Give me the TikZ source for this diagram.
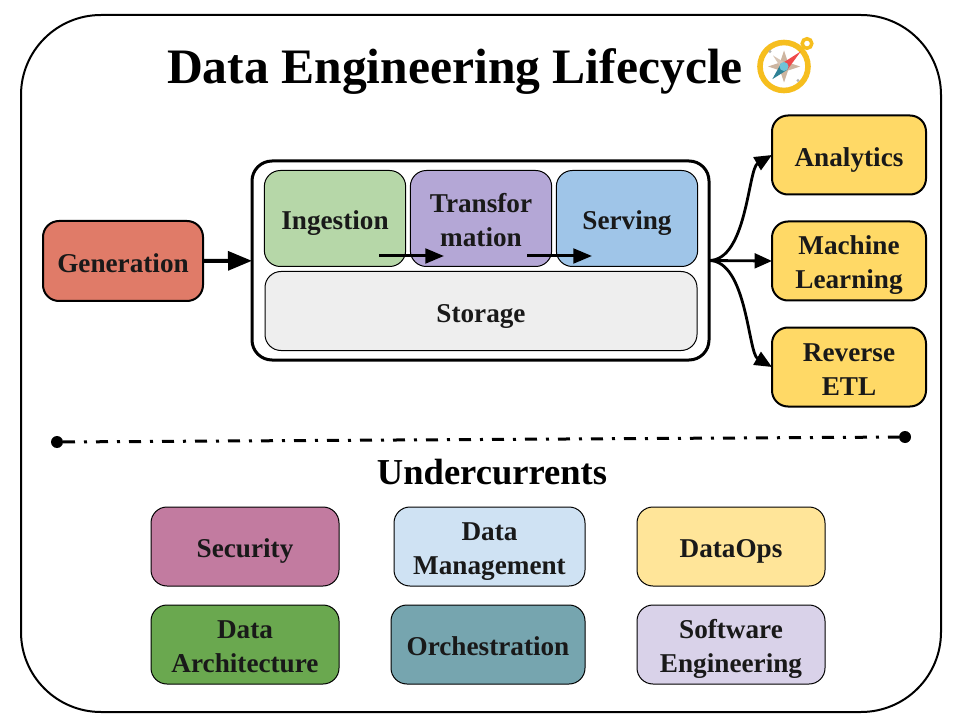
\documentclass[tikz,border=0pt]{standalone}
\usepackage{fontspec}
\setmainfont{Liberation Serif}
\usetikzlibrary{arrows.meta}
\definecolor{cgen}{HTML}{E07B68}
\definecolor{cing}{HTML}{B6D7A8}
\definecolor{ctra}{HTML}{B4A7D6}
\definecolor{cser}{HTML}{9FC5E8}
\definecolor{csto}{HTML}{EEEEEE}
\definecolor{cyel}{HTML}{FFD966}
\definecolor{csec}{HTML}{C27BA0}
\definecolor{cman}{HTML}{CFE2F3}
\definecolor{cops}{HTML}{FFE599}
\definecolor{carc}{HTML}{6AA84F}
\definecolor{corc}{HTML}{76A5AF}
\definecolor{csof}{HTML}{D9D2E9}
\definecolor{cring}{HTML}{F6BE1E}
\definecolor{cstar}{HTML}{CDB5A0}
\definecolor{cneedr}{HTML}{EF4A4A}
\definecolor{cneedt}{HTML}{2F8296}
\definecolor{chub}{HTML}{6FC4D8}
\tikzset{
  px/.style={x=0.75pt,y=-0.75pt},
  boxbase/.style={draw=black,rounded corners=12pt,inner sep=0pt,outer sep=0pt,align=center,
     font=\fontsize{20.4}{25.5}\selectfont\bfseries,text=black!90,
     execute at begin node={\rule{0pt}{21.75pt}},
     execute at end node={\rule[-5pt]{0pt}{0pt}}},
  two lines/.style={execute at begin node={\rule{0pt}{47pt}}},
  thin box/.style={boxbase,line width=0.75pt},
  mid box/.style={boxbase,line width=1.5pt},
  inarrow/.style={line width=2.25pt,-{Triangle[length=14pt,width=11pt]}},
  fan/.style={line width=2.1pt,-{Triangle[length=13pt,width=11pt]}},
  endpoint/.style={circle,fill=black,inner sep=0pt,minimum size=9pt,outer sep=0pt},
}
\begin{document}
\begin{tikzpicture}[px]
\useasboundingbox (0,0) rectangle (960,720);
\fill[white] (0,0) rectangle (960,720);
\node[draw=black,line width=1.5pt,rounded corners=60pt,minimum width=690pt,minimum height=522.75pt,inner sep=0pt,outer sep=0pt] (frame) at (481,363.5) {};
\node[font=\fontsize{37.2}{44}\selectfont\bfseries,inner sep=0pt] (title) at (455,72) {Data Engineering Lifecycle};
% compass
\begin{scope}[shift={(784,66.5)}]
  \draw[draw=cring,line width=2.6pt] (23,-23) circle (4.8);
  \filldraw[fill=white,draw=cring,line width=4.2pt] (0,0) circle (24);
  \fill[gray!60] (-14,-15) circle (1.6) (14,14) circle (1.6);
  \fill[cstar] (0,-16)--(4,-4)--(16,0)--(4,4)--(0,16)--(-4,4)--(-16,0)--(-4,-4)--cycle;
  \fill[cstar!80] (-11,-11)--(2,-3)--(3,2)--(-2,3)--cycle;
  \fill[cneedr] (16.7,-15)--(-1.7,-3.3)--(3.3,3.3)--cycle;
  \fill[cneedt] (-11.7,12.7)--(-3,-3)--(3.3,3.3)--cycle;
  \fill[chub] (0,0) circle (4.5);
\end{scope}
\node[mid box,fill=cgen,minimum width=120pt,minimum height=60pt] (gen) at (123,261) {Generation};
\node[draw=black,line width=2.25pt,rounded corners=15pt,minimum width=342.75pt,minimum height=149.25pt,inner sep=0pt,outer sep=0pt] (pipe) at (480.5,260.5) {};
\node[thin box,fill=cing,minimum width=106pt,minimum height=72pt] (ing) at (335,218.5) {Ingestion};
\node[thin box,two lines,fill=ctra,minimum width=106pt,minimum height=72pt] (tra) at (481,218.5) {Transfor\\mation};
\node[thin box,fill=cser,minimum width=106pt,minimum height=72pt] (ser) at (627,218.5) {Serving};
\node[thin box,fill=csto,minimum width=324pt,minimum height=59.25pt] (sto) at (481,311) {Storage};
\node[mid box,fill=cyel,minimum width=115.5pt,minimum height=59.25pt] (ana) at (849,155) {Analytics};
\node[mid box,two lines,fill=cyel,minimum width=115.5pt,minimum height=59.25pt] (mac) at (849,261) {Machine\\Learning};
\node[mid box,two lines,fill=cyel,minimum width=115.5pt,minimum height=59.25pt] (rev) at (849,367) {Reverse\\ETL};
\draw[line width=3pt,-{Triangle[length=18pt,width=14pt]}] (gen) -- (pipe);
\coordinate (a1) at (379,256); \coordinate (a2) at (444,256);
\coordinate (b1) at (527,256); \coordinate (b2) at (592,256);
\draw[inarrow] (a1) -- (a2);
\draw[inarrow] (b1) -- (b2);
\draw[fan] (pipe.east) .. controls +(38,0) and +(-24,14) .. (ana.west);
\draw[fan] (pipe.east) -- (mac.west);
\draw[fan] (pipe.east) .. controls +(38,0) and +(-24,-14) .. (rev.west);
\node[endpoint] (d1) at (57,442) {};
\node[endpoint] (d2) at (905,437) {};
\draw[line width=2.25pt,dash pattern=on 9pt off 6.75pt on 2.25pt off 6.75pt] (d1) -- (d2);
\node[font=\fontsize{27.4}{32}\selectfont\bfseries,inner sep=0pt] (under) at (492,472) {Undercurrents};
\node[thin box,fill=csec,minimum width=141pt,minimum height=59.25pt] (s1) at (245,546.5) {Security};
\node[thin box,two lines,fill=cman,minimum width=143.25pt,minimum height=59.25pt] (s2) at (489.5,546.5) {Data\\Management};
\node[thin box,fill=cops,minimum width=141pt,minimum height=59.25pt] (s3) at (731,546.5) {DataOps};
\node[thin box,two lines,fill=carc,minimum width=141pt,minimum height=59.25pt] (s4) at (245,644.5) {Data\\Architecture};
\node[thin box,fill=corc,minimum width=145.5pt,minimum height=59.25pt] (s5) at (488,644.5) {Orchestration};
\node[thin box,two lines,fill=csof,minimum width=141pt,minimum height=59.25pt] (s6) at (731,644.5) {Software\\Engineering};
\end{tikzpicture}
\end{document}
